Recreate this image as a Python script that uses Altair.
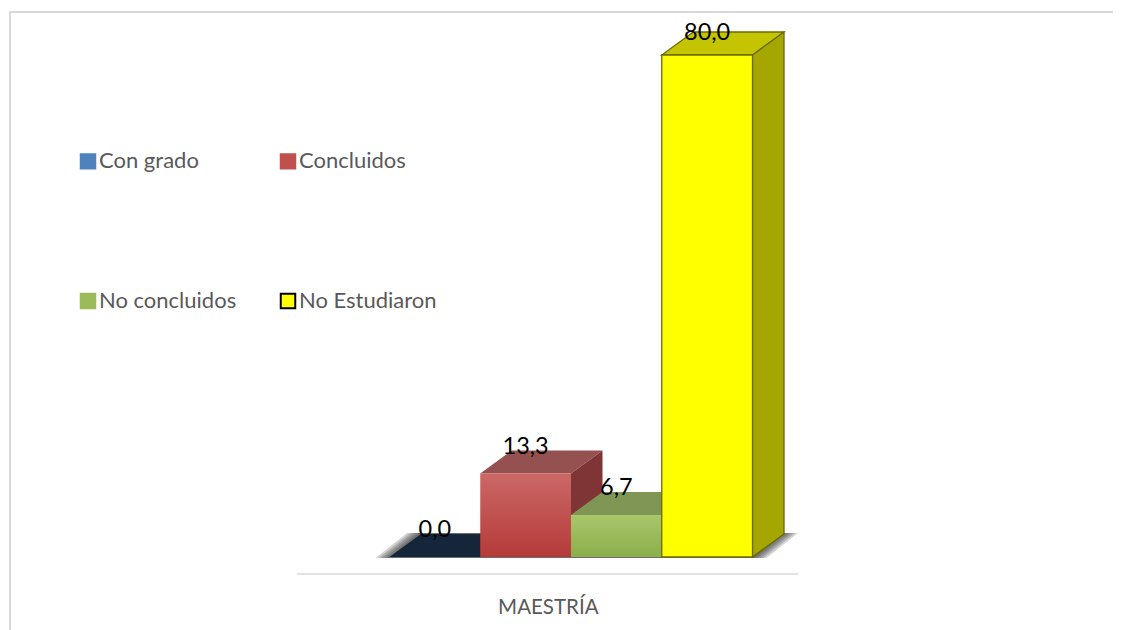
import altair as alt
import pandas as pd

categories = ["Con grado", "Concluidos", "No concluidos", "No Estudiaron"]
values = [0.0, 13.3, 6.7, 80.0]
labels = ["0,0", "13,3", "6,7", "80,0"]
front_colors = ["#4f81bd", "#c0504d", "#9bbb59", "#ffff00"]
top_colors = ["#16263a", "#955050", "#7f9655", "#c4c400"]
side_colors = ["#16263a", "#7f3535", "#66803f", "#a6a600"]
legend_strokes = ["#4f81bd", "#c0504d", "#9bbb59", "#000000"]
group_label = "MAESTRÍA"

W, H = 1105, 622
UX = 90.75   # px per bar
UY = 6.275   # px per value unit
X0 = 381.5   # left edge of first bar in plot px
Y0 = 549.0   # baseline in plot px
DX = 31.5 / UX
DY = 23.0 / UY

xs = alt.Scale(domain=[-X0 / UX, (W - X0) / UX], range=[0, W], nice=False, zero=False)
ys = alt.Scale(domain=[-(H - Y0) / UY, Y0 / UY], range=[H, 0], nice=False, zero=False)
X = lambda f: alt.X(f, type="quantitative", scale=xs, axis=None)
Y = lambda f: alt.Y(f, type="quantitative", scale=ys, axis=None)

front, top, side, lab = [], [], [], []
for i, (c, v, l) in enumerate(zip(categories, values, labels)):
    front.append(dict(cat=c, x=i, x2=i + 1, y=0, y2=v))
    top += [
        dict(cat=c, y=v, a=i, b=i + 1),
        dict(cat=c, y=v + DY, a=i + DX, b=i + 1 + DX),
    ]
    side += [
        dict(cat=c, x=i + 1, lo=0, hi=v),
        dict(cat=c, x=i + 1 + DX, lo=DY, hi=v + DY),
    ]
    lab.append(dict(cat=c, x=i + 0.5, y=min(v + DY * 1.16, 83.5), t=l))
front, top, side, lab = map(pd.DataFrame, (front, top, side, lab))

noleg = alt.Legend(
    title=None, orient="none", legendX=69, legendY=142, columns=2, direction="horizontal",
    symbolType="square", symbolSize=210, symbolStrokeWidth=2, symbolOpacity=1,
    labelFont="Lato", labelFontSize=22, labelColor="#595959", labelOffset=0,
    rowPadding=116, columnPadding=39, gridAlign="all", labelLimit=300,
)
fill_leg = alt.Fill("cat:N", scale=alt.Scale(domain=categories, range=front_colors), sort=categories, legend=noleg)
stroke_leg = alt.Stroke("cat:N", scale=alt.Scale(domain=categories, range=legend_strokes), sort=categories, legend=noleg)

layers = []

# soft floor shadow: nested parallelograms build up a fade
shadow_spread = [14, 11, 8, 5, 2]
for k in shadow_spread:
    s = k / UX
    shadow = pd.DataFrame([
        dict(y=-1 / UY, a=-s, b=4 + s),
        dict(y=DY + 1 / UY, a=DX - s, b=4 + DX + s),
    ])
    layers.append(alt.Chart(shadow).mark_area(orient="horizontal", color="#2a2a2a", opacity=0.2).encode(
        y=Y("y"), x=X("a"), x2=alt.X2("b")))

# legend layer
layers.append(alt.Chart(front).mark_square(size=0, filled=True, strokeWidth=0).encode(
    x=X("x"), y=Y("y"), fill=fill_leg, stroke=stroke_leg))

# axis line and category label
axis_df = pd.DataFrame({"x": [(297 - 8 - X0) / UX], "x2": [(798 - 8 - X0) / UX], "y": [-(574 - 557) / UY]})
layers.append(alt.Chart(axis_df).mark_rule(color="#d9d9d9", strokeWidth=1.5).encode(
    x=X("x"), x2=alt.X2("x2"), y=Y("y")))
lab_df = pd.DataFrame({"x": [1.75], "y": [-(607.5 - 557) / UY], "t": [group_label]})
layers.append(alt.Chart(lab_df).mark_text(font="Lato", fontSize=20.5, color="#595959").encode(
    x=X("x"), y=Y("y"), text="t:N"))

# draw bars left to right
for i, c in enumerate(categories):
    stroke = "#6b6b00" if i == 3 else None
    sw = {"stroke": stroke, "strokeWidth": 1.3} if stroke else {}
    t = top[top.cat == c]
    s = side[side.cat == c]
    f = front[front.cat == c]
    layers.append(alt.Chart(t).mark_area(orient="horizontal", color=top_colors[i], **sw).encode(
        y=Y("y"), x=X("a"), x2=alt.X2("b")))
    if values[i] > 0:
        layers.append(alt.Chart(s).mark_area(orient="vertical", color=side_colors[i], **sw).encode(
            x=X("x"), y=Y("lo"), y2=alt.Y2("hi")))
        if i == 3:
            fill = front_colors[i]
        else:
            lite = {1: "#cb6866", 2: "#a9c76a"}[i]
            dark = {1: "#b53b39", 2: "#8cae4b"}[i]
            fill = alt.Gradient(gradient="linear", x1=0, x2=0, y1=0, y2=1,
                                stops=[alt.GradientStop(color=lite, offset=0),
                                       alt.GradientStop(color=dark, offset=1)])
        layers.append(alt.Chart(f).mark_rect(fill=fill, **sw).encode(
            x=X("x"), x2=alt.X2("x2"), y=Y("y"), y2=alt.Y2("y2")))

# value labels
layers.append(alt.Chart(lab).mark_text(font="Lato", fontSize=23.5, color="#000000").encode(
    x=X("x"), y=Y("y"), text="t:N"))

# chart frame
frame_top = pd.DataFrame({"x": [-X0 / UX + 1.5 / UX], "x2": [(W - X0) / UX], "y": [(Y0 - 4) / UY]})
frame_left = pd.DataFrame({"x": [-X0 / UX + 2 / UX], "y": [(Y0 - 4) / UY], "y2": [-(H - Y0) / UY]})
layers.append(alt.Chart(frame_top).mark_rule(color="#d9d9d9", strokeWidth=2).encode(
    x=X("x"), x2=alt.X2("x2"), y=Y("y")))
layers.append(alt.Chart(frame_left).mark_rule(color="#d9d9d9", strokeWidth=2).encode(
    x=X("x"), y=Y("y"), y2=alt.Y2("y2")))

chart = alt.layer(*layers).resolve_scale(fill="independent", stroke="independent").properties(
    width=W, height=H, padding=0, autosize=alt.AutoSizeParams(type="none")
).configure_view(stroke=None)

chart.save("out.html", embed_options={"renderer": "svg", "actions": False})
